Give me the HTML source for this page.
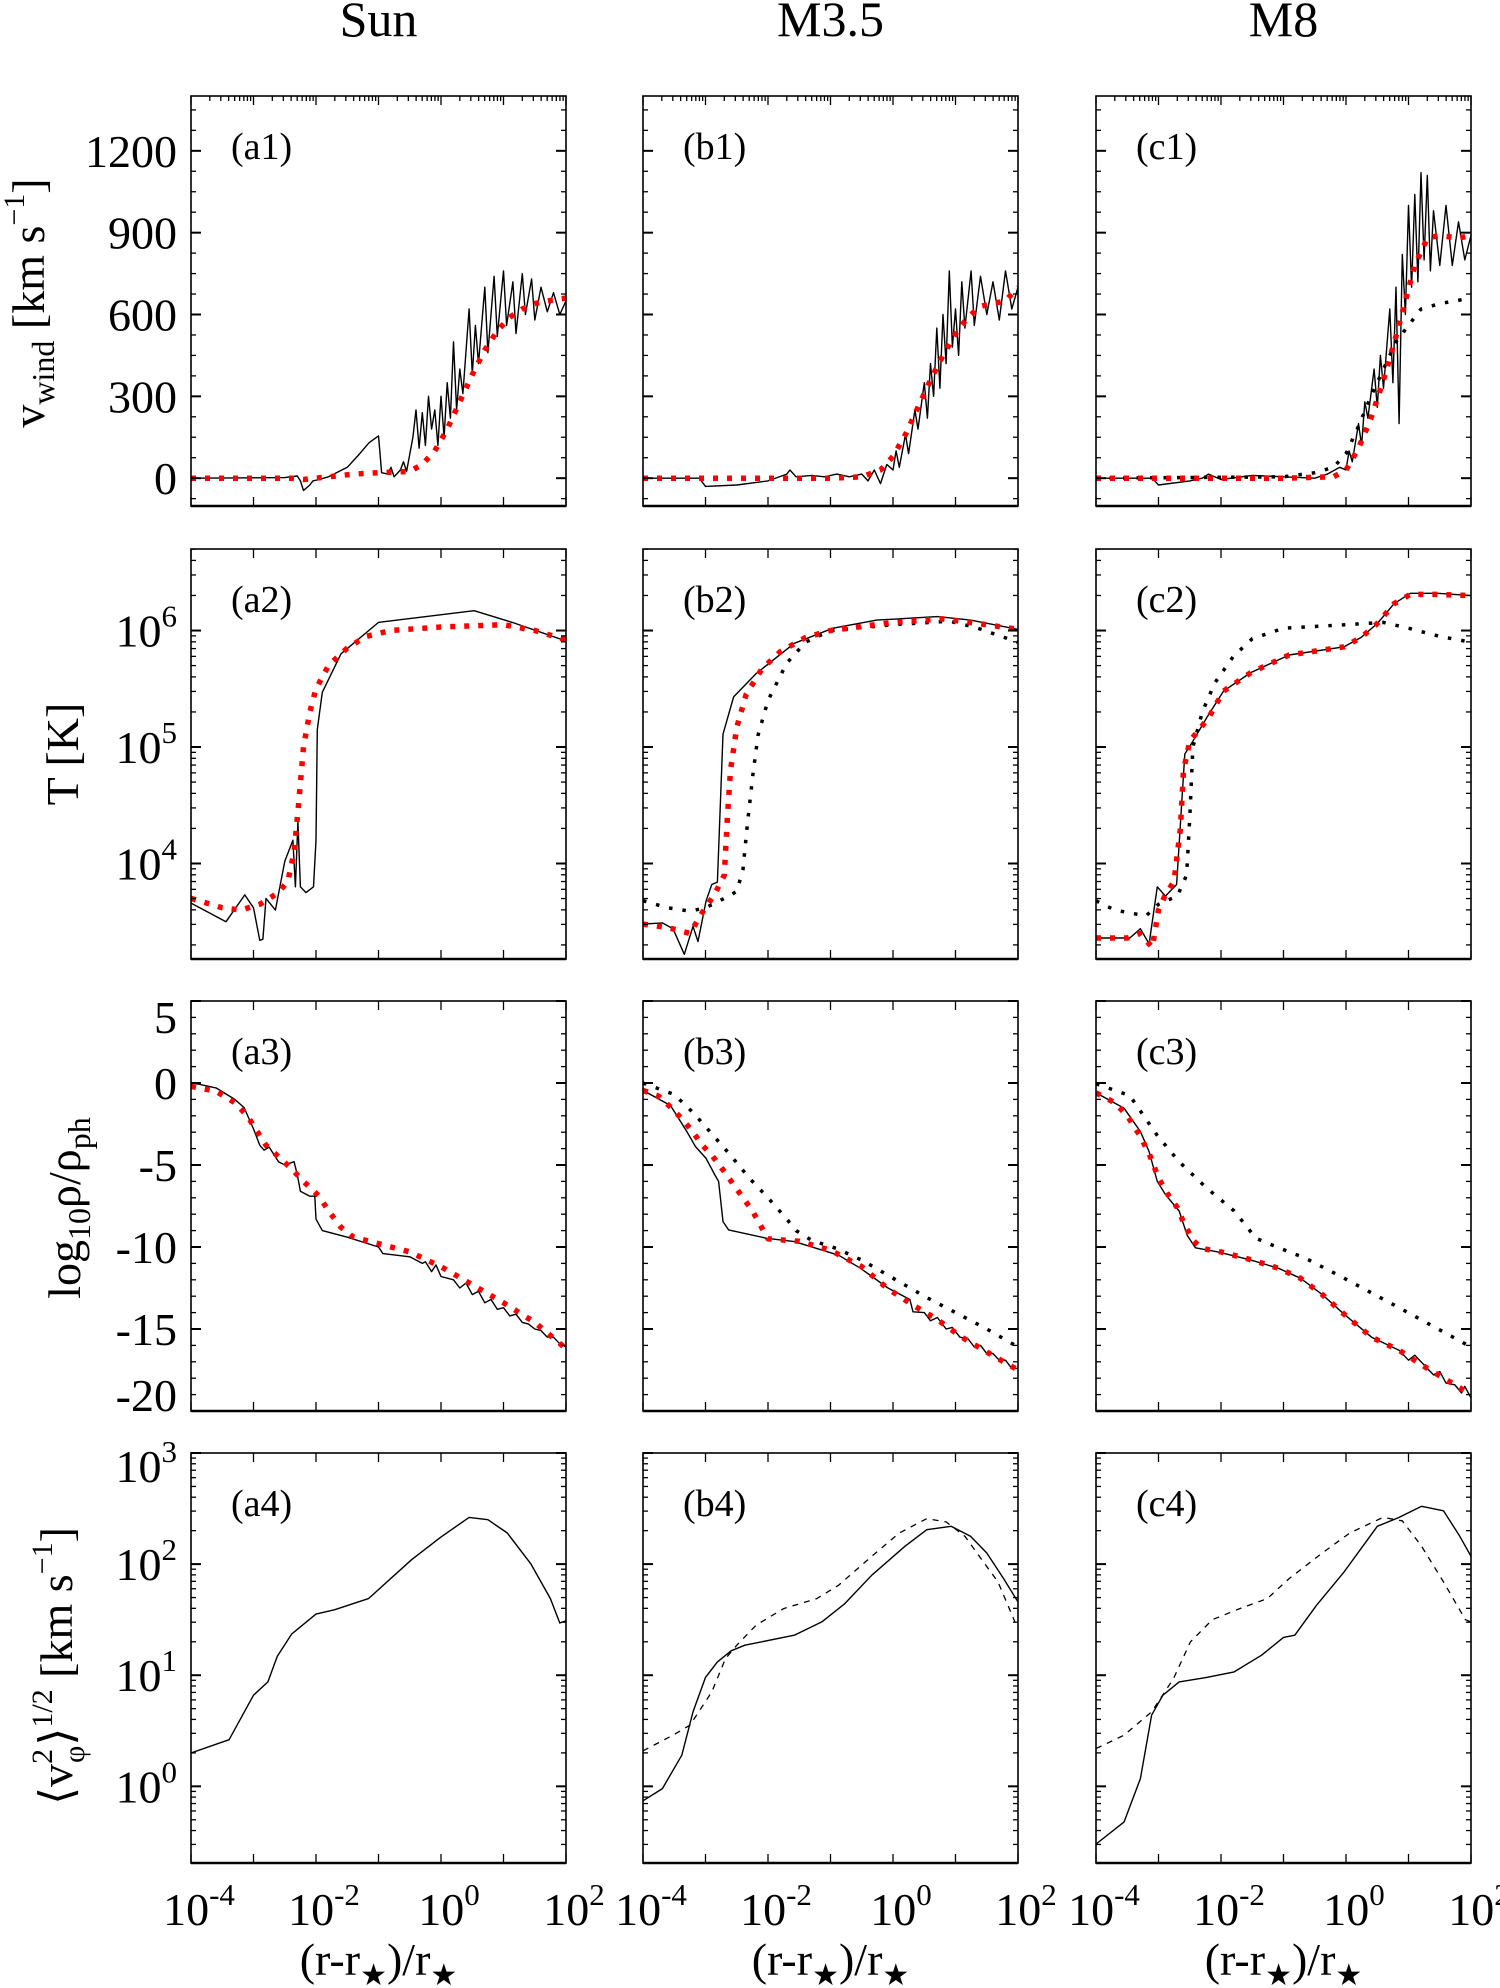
<!DOCTYPE html>
<html><head><meta charset="utf-8"><style>
html,body{margin:0;padding:0;background:#fff;}
svg{display:block;}
text{font-family:"Liberation Serif",serif;fill:#000;}
</style></head><body>
<svg id="fig" width="1500" height="1988" viewBox="0 0 1500 1988" xmlns="http://www.w3.org/2000/svg"></svg>
<script>
// ---------- data (x in log10((r-r*)/r*), y in native units or log10 for log panels) ----------
const columnTitles = ["Sun","M3.5","M8"];
const xTickExps = [-4,-2,0,2];
const vTicks = [0,300,600,900,1200];
const tTickExps = [4,5,6];
const rhoTicks = [5,0,-5,-10,-15,-20];
const vphiTickExps = [0,1,2,3];

const a1Solid=[[-4,0],[-2.5,2],[-2.3,8],[-2.25,-10],[-2.2,-45],[-2.1,-25],[-2.05,-10],[-1.95,-5],[-1.8,5],[-1.5,40],[-1.3,90],[-1.15,130],[-1.0,155],[-0.98,100],[-0.95,20],[-0.85,15],[-0.8,40],[-0.75,5],[-0.65,30],[-0.6,60],[-0.55,25],[-0.45,150],[-0.4,250],[-0.35,110],[-0.3,240],[-0.25,120],[-0.2,300],[-0.15,180],[-0.1,250],[-0.05,120],[0,300],[0.05,150],[0.1,350],[0.15,220],[0.2,500],[0.25,250],[0.3,400],[0.35,310],[0.45,620],[0.5,380],[0.55,560],[0.6,420],[0.7,700],[0.75,460],[0.85,740],[0.9,520],[1,760],[1.05,560],[1.15,720],[1.2,530],[1.3,750],[1.35,600],[1.45,730],[1.5,580],[1.6,700],[1.7,610],[1.8,680],[1.9,600],[2,650]];
const a1Red=[[-4,0],[-2.4,0],[-2.2,-5],[-1.8,5],[-1.4,15],[-1,20],[-0.5,25],[-0.3,50],[-0.1,100],[0.1,180],[0.3,280],[0.5,380],[0.7,470],[0.9,540],[1.1,590],[1.3,620],[1.5,640],[1.7,650],[2,660]];
const b1Solid=[[-4,0],[-3.1,0],[-3.0,-30],[-2.5,-25],[-2.0,-10],[-1.7,15],[-1.65,30],[-1.55,5],[-1.3,10],[-1.1,5],[-0.9,15],[-0.7,5],[-0.5,15],[-0.4,-10],[-0.3,30],[-0.2,-20],[-0.1,50],[0,30],[0.05,100],[0.1,40],[0.2,160],[0.25,90],[0.35,250],[0.4,180],[0.5,350],[0.55,220],[0.6,420],[0.65,300],[0.7,550],[0.75,330],[0.8,600],[0.85,420],[0.9,760],[0.95,480],[1.0,620],[1.05,450],[1.1,720],[1.15,550],[1.25,760],[1.3,560],[1.4,740],[1.5,600],[1.6,720],[1.7,580],[1.8,760],[1.9,620],[2,700]];
const b1Red=[[-4,0],[-1,0],[-0.5,5],[-0.2,30],[0,80],[0.2,160],[0.4,260],[0.6,360],[0.8,450],[1,530],[1.2,590],[1.4,630],[1.6,640],[1.8,650],[2,700]];
const c1Solid=[[-4,0],[-3.1,0],[-3.0,-25],[-2.5,-10],[-2.3,0],[-2.2,15],[-2,-5],[-1.5,10],[-1,5],[-0.5,0],[-0.3,15],[-0.1,40],[0,30],[0.05,100],[0.1,60],[0.2,200],[0.25,120],[0.3,280],[0.35,220],[0.45,400],[0.5,260],[0.55,450],[0.6,330],[0.7,620],[0.75,350],[0.8,700],[0.85,200],[0.9,820],[0.95,600],[1.0,1000],[1.05,700],[1.1,1040],[1.15,720],[1.2,1120],[1.25,800],[1.3,1110],[1.35,760],[1.4,980],[1.5,780],[1.6,1000],[1.7,780],[1.8,940],[1.9,800],[2,890]];
const c1Red=[[-4,0],[-1,0],[-0.2,5],[0,30],[0.2,110],[0.4,220],[0.6,360],[0.8,520],[0.95,650],[1.1,780],[1.3,880],[1.5,890],[1.8,880],[2,890]];
const c1Dot=[[-4,0],[-1,5],[-0.5,20],[-0.2,40],[0,90],[0.2,190],[0.4,300],[0.6,400],[0.8,500],[1.0,560],[1.2,620],[1.5,640],[2,660]];

const a2Solid=[[-4,3.66],[-3.44,3.5],[-3.14,3.73],[-3.0,3.62],[-2.9,3.34],[-2.85,3.35],[-2.8,3.7],[-2.65,3.6],[-2.5,4.02],[-2.37,4.2],[-2.33,3.8],[-2.29,4.36],[-2.25,3.8],[-2.16,3.75],[-2.04,3.8],[-2.0,4.2],[-1.98,5.15],[-1.9,5.47],[-1.6,5.8],[-1.0,6.07],[0.53,6.17],[1.14,6.07],[2,5.91]];
const a2Red=[[-4,3.7],[-3.5,3.62],[-3.2,3.6],[-2.9,3.65],[-2.6,3.75],[-2.45,3.85],[-2.35,4.1],[-2.28,4.5],[-2.2,5.0],[-2.1,5.3],[-2.0,5.5],[-1.8,5.7],[-1.5,5.85],[-1.2,5.95],[-0.8,6.0],[0,6.03],[1,6.05],[1.5,6.0],[2,5.92]];
const b2Solid=[[-4,3.48],[-3.69,3.49],[-3.52,3.44],[-3.34,3.22],[-3.2,3.46],[-3.12,3.33],[-2.99,3.68],[-2.9,3.82],[-2.81,3.84],[-2.72,5.11],[-2.55,5.43],[-2.19,5.63],[-1.58,5.89],[-0.96,6.02],[-0.26,6.09],[0.71,6.12],[1.24,6.09],[2.0,6.01]];
const b2Red=[[-4,3.48],[-3.6,3.45],[-3.25,3.4],[-3.05,3.58],[-2.85,3.74],[-2.7,3.9],[-2.65,4.4],[-2.6,4.8],[-2.5,5.17],[-2.35,5.45],[-2.1,5.67],[-1.8,5.82],[-1.4,5.94],[-1,6.0],[0,6.07],[0.8,6.1],[1.5,6.05],[2,6.01]];
const b2Dot=[[-4,3.68],[-3.6,3.62],[-3.25,3.59],[-3.0,3.62],[-2.7,3.7],[-2.5,3.76],[-2.4,3.95],[-2.33,4.34],[-2.24,4.77],[-2.16,5.1],[-2.0,5.4],[-1.7,5.72],[-1.4,5.9],[-1.0,6.0],[0,6.05],[0.9,6.08],[1.3,6.03],[2,5.9]];
const c2Solid=[[-4,3.36],[-3.46,3.36],[-3.29,3.44],[-3.15,3.31],[-3.02,3.8],[-2.89,3.72],[-2.71,3.82],[-2.58,4.94],[-2.45,5.05],[-2.23,5.25],[-1.96,5.48],[-1.52,5.64],[-0.91,5.79],[-0.03,5.86],[0.24,5.94],[0.5,6.06],[0.77,6.23],[1.03,6.32],[1.47,6.32],[2.0,6.3]];
const c2Red=[[-4,3.36],[-3.5,3.36],[-3.3,3.4],[-3.1,3.28],[-3.0,3.6],[-2.9,3.72],[-2.75,3.85],[-2.65,4.3],[-2.6,4.8],[-2.5,5.05],[-2.2,5.25],[-1.96,5.48],[-1.52,5.64],[-0.91,5.79],[-0.03,5.86],[0.24,5.94],[0.5,6.06],[0.77,6.23],[1.03,6.31],[1.47,6.31],[2.0,6.3]];
const c2Dot=[[-4,3.68],[-3.7,3.6],[-3.2,3.55],[-3.0,3.65],[-2.7,3.72],[-2.55,3.9],[-2.5,4.4],[-2.45,5.0],[-2.3,5.3],[-2.1,5.55],[-1.8,5.78],[-1.5,5.93],[-1.0,6.02],[0,6.05],[0.6,6.07],[1.0,6.02],[1.5,5.95],[2,5.9]];

const a3Solid=[[-4,0.03],[-3.6,-0.3],[-3.3,-1.0],[-3.15,-1.5],[-3.0,-2.8],[-2.9,-3.8],[-2.83,-4.1],[-2.75,-3.9],[-2.6,-4.8],[-2.5,-5.0],[-2.35,-4.8],[-2.3,-5.6],[-2.25,-6.6],[-2.1,-6.9],[-2.02,-6.9],[-2.0,-8.3],[-1.9,-9.0],[-1.5,-9.4],[-1.0,-10.0],[-0.93,-10.4],[-0.5,-10.6],[-0.3,-11.0],[-0.25,-10.9],[-0.15,-11.5],[-0.08,-11.1],[0,-11.8],[0.2,-12.0],[0.3,-12.5],[0.4,-12.2],[0.5,-12.9],[0.6,-12.7],[0.7,-13.4],[0.8,-13.2],[0.9,-13.8],[1.0,-13.7],[1.1,-14.2],[1.2,-14.1],[1.3,-14.6],[1.4,-14.7],[1.5,-15.0],[1.6,-15.1],[1.7,-15.5],[1.8,-15.5],[1.9,-15.9],[2,-16.1]];
const a3Red=[[-4,-0.2],[-3.6,-0.5],[-3.3,-1.2],[-3.1,-2.0],[-2.95,-2.9],[-2.8,-3.8],[-2.6,-4.5],[-2.4,-5.2],[-2.2,-6.0],[-1.95,-6.9],[-1.8,-7.8],[-1.6,-8.8],[-1.4,-9.4],[-1.0,-9.8],[-0.5,-10.3],[0,-11.2],[0.5,-12.3],[1,-13.4],[1.5,-14.6],[2,-16.2]];
const b3Solid=[[-4,-0.45],[-3.56,-1.37],[-3.3,-2.96],[-3.16,-3.88],[-2.99,-4.6],[-2.85,-5.61],[-2.79,-6.0],[-2.72,-8.45],[-2.63,-8.96],[-2.02,-9.47],[-1.58,-9.67],[-0.87,-10.5],[-0.52,-11.3],[-0.08,-12.5],[0.27,-13.2],[0.32,-13.95],[0.5,-14.0],[0.6,-14.5],[0.71,-14.3],[0.85,-15.0],[0.95,-14.9],[1.07,-15.5],[1.2,-15.6],[1.3,-16.1],[1.4,-16.0],[1.5,-16.5],[1.6,-16.5],[1.7,-16.9],[1.8,-16.9],[1.9,-17.4],[2,-17.4]];
const b3Red=[[-4,-0.45],[-3.75,-0.8],[-3.55,-1.5],[-3.35,-2.3],[-3.2,-3.0],[-3.05,-3.8],[-2.9,-4.4],[-2.7,-5.4],[-2.55,-6.2],[-2.4,-7.0],[-2.25,-7.8],[-2.0,-9.5],[-1.5,-9.65],[-1.0,-10.2],[-0.5,-11.2],[-0.1,-12.5],[0.3,-13.5],[0.7,-14.4],[1.1,-15.5],[1.5,-16.4],[2,-17.5]];
const b3Dot=[[-4,0],[-3.5,-0.7],[-3.2,-1.8],[-2.9,-3.1],[-2.6,-4.4],[-2.3,-5.8],[-2.0,-7.0],[-1.7,-8.3],[-1.55,-9.0],[-1.3,-9.6],[-0.9,-10.1],[-0.5,-10.8],[0,-11.9],[0.5,-13.0],[1.0,-14.0],[1.5,-15.0],[2,-16.1]];
const c3Solid=[[-4,-0.6],[-3.55,-1.54],[-3.29,-2.96],[-3.15,-4.18],[-3.02,-6.0],[-2.89,-6.8],[-2.67,-7.8],[-2.54,-9.3],[-2.41,-10.05],[-2.05,-10.3],[-1.52,-10.8],[-1.08,-11.3],[-0.73,-11.9],[-0.38,-12.9],[-0.03,-14.1],[0.41,-15.5],[0.85,-16.3],[1.0,-16.9],[1.1,-16.6],[1.3,-17.4],[1.4,-17.8],[1.5,-17.6],[1.6,-18.3],[1.74,-18.4],[1.85,-18.9],[1.9,-18.5],[2,-19.2]];
const c3Red=[[-4,-0.6],[-3.7,-1.2],[-3.5,-2.0],[-3.3,-3.2],[-3.15,-4.3],[-3.0,-5.8],[-2.85,-6.8],[-2.7,-7.6],[-2.6,-8.5],[-2.45,-9.6],[-2.3,-10.1],[-2.0,-10.3],[-1.5,-10.8],[-1.08,-11.3],[-0.73,-11.9],[-0.38,-12.9],[-0.03,-14.1],[0.41,-15.5],[0.85,-16.3],[1.3,-17.4],[1.74,-18.4],[2,-19.0]];
const c3Dot=[[-4,-0.05],[-3.46,-0.77],[-3.02,-3.2],[-2.67,-4.8],[-2.23,-6.4],[-1.79,-7.8],[-1.44,-9.47],[-1.17,-9.9],[-0.64,-10.7],[-0.03,-11.9],[0.85,-13.7],[2,-16.1]];

const a4Solid=[[-4,0.30],[-3.39,0.42],[-3.0,0.82],[-2.77,0.94],[-2.62,1.17],[-2.39,1.37],[-2.0,1.55],[-1.7,1.59],[-1.16,1.69],[-0.47,2.04],[-0.01,2.24],[0.45,2.42],[0.75,2.4],[1.06,2.28],[1.44,2.0],[1.75,1.69],[1.9,1.47],[2,1.49]];
const b4Solid=[[-4,-0.13],[-3.69,-0.02],[-3.38,0.28],[-3.2,0.67],[-3.0,0.98],[-2.81,1.12],[-2.59,1.22],[-2.37,1.27],[-1.58,1.36],[-1.14,1.48],[-0.78,1.64],[-0.34,1.9],[0.19,2.16],[0.54,2.31],[0.93,2.34],[1.24,2.25],[1.5,2.1],[1.77,1.87],[2,1.66]];
const b4Dash=[[-4,0.32],[-3.52,0.46],[-3.25,0.55],[-2.9,0.85],[-2.68,1.15],[-2.5,1.27],[-2.19,1.45],[-1.75,1.6],[-1.22,1.69],[-0.87,1.81],[-0.34,2.07],[0.1,2.28],[0.54,2.41],[0.85,2.38],[1.15,2.25],[1.42,2.04],[1.68,1.84],[1.95,1.48]];
const c4Solid=[[-4,-0.52],[-3.55,-0.32],[-3.29,0.07],[-3.11,0.64],[-2.93,0.82],[-2.67,0.94],[-2.23,0.98],[-1.79,1.03],[-1.35,1.18],[-1.0,1.34],[-0.82,1.36],[-0.47,1.63],[-0.03,1.93],[0.5,2.34],[0.85,2.42],[1.21,2.52],[1.56,2.48],[1.82,2.25],[2.0,2.07]];
const c4Dash=[[-4,0.34],[-3.55,0.46],[-3.11,0.67],[-2.76,0.97],[-2.49,1.3],[-2.14,1.5],[-1.7,1.6],[-1.26,1.69],[-0.91,1.87],[-0.38,2.1],[0.06,2.28],[0.59,2.42],[0.9,2.39],[1.21,2.16],[1.56,1.84],[1.91,1.5],[2,1.48]];

// ---------- layout ----------
const NS="http://www.w3.org/2000/svg";
const svg=document.getElementById('fig');
const X0=[191,643,1096], PW=375, PH=410;
const ROWT=[96,549,1001,1453];
const YR=[[-102,1401],[3.18,6.70],[-20,5.0],[-0.69,3.0]];
function xs(c,lx){return X0[c]+(lx+4)/6*PW;}
function ys(r,v){const d=YR[r];return ROWT[r]+PH-(v-d[0])/(d[1]-d[0])*PH;}
function el(tag,parent){const e=document.createElementNS(NS,tag);parent.appendChild(e);return e;}
function line(p,x1,y1,x2,y2,w){const l=el('line',p);l.setAttribute('x1',x1);l.setAttribute('y1',y1);l.setAttribute('x2',x2);l.setAttribute('y2',y2);l.setAttribute('stroke','#000');l.setAttribute('stroke-width',w||1.3);return l;}
function txt(p,x,y,s,size,anchor){const t=el('text',p);t.setAttribute('x',x);t.setAttribute('y',y);t.setAttribute('font-size',size);t.setAttribute('text-anchor',anchor||'middle');t.textContent=s;return t;}
function powLabel(p,x,y,exp,anchor){
  const t=el('text',p);t.setAttribute('x',x);t.setAttribute('y',y);t.setAttribute('font-size',46);t.setAttribute('text-anchor',anchor);
  const a=el('tspan',t);a.textContent='10';
  const b=el('tspan',t);b.setAttribute('dy',-20);b.setAttribute('font-size',31);b.textContent=String(exp);
  return t;
}
const defs=el('defs',svg);

const series=[
 [[a1Solid,'s'],[a1Red,'r']],[[b1Solid,'s'],[b1Red,'r']],[[c1Dot,'d'],[c1Solid,'s'],[c1Red,'r']],
 [[a2Solid,'s'],[a2Red,'r']],[[b2Dot,'d'],[b2Solid,'s'],[b2Red,'r']],[[c2Dot,'d'],[c2Solid,'s'],[c2Red,'r']],
 [[a3Solid,'s'],[a3Red,'r']],[[b3Dot,'d'],[b3Solid,'s'],[b3Red,'r']],[[c3Dot,'d'],[c3Solid,'s'],[c3Red,'r']],
 [[a4Solid,'s']],[[b4Dash,'h'],[b4Solid,'s']],[[c4Dash,'h'],[c4Solid,'s']]
];
const letters=['a','b','c'];

for(let c=0;c<3;c++){
  const t=txt(svg,X0[c]+PW/2,36,columnTitles[c],50);
  
  
}

for(let r=0;r<4;r++){
  for(let c=0;c<3;c++){
    const g=el('g',svg);
    
    
    const L=X0[c],T=ROWT[r],R=L+PW,B=T+PH;
    const cp=el('clipPath',defs);cp.setAttribute('id','cp'+r+c);
    const cr=el('rect',cp);cr.setAttribute('x',L);cr.setAttribute('y',T);cr.setAttribute('width',PW);cr.setAttribute('height',PH);
    // series
    const sg=el('g',g);sg.setAttribute('clip-path','url(#cp'+r+c+')');
    for(const [pts,sty] of series[r*3+c]){
      const p=el('path',sg);
      
      
      p.setAttribute('d',pts.map((q,i)=>(i?'L':'M')+xs(c,q[0]).toFixed(1)+','+ys(r,q[1]).toFixed(1)).join(''));
      p.setAttribute('fill','none');p.setAttribute('stroke-linejoin','round');
      if(sty==='s'){p.setAttribute('stroke','#000');p.setAttribute('stroke-width',1.4);}
      if(sty==='r'){p.setAttribute('stroke','#ff0000');p.setAttribute('stroke-width',5.5);p.setAttribute('stroke-dasharray','5 9');}
      if(sty==='d'){p.setAttribute('stroke','#000');p.setAttribute('stroke-width',3.5);p.setAttribute('stroke-dasharray','3.5 10');}
      if(sty==='h'){p.setAttribute('stroke','#000');p.setAttribute('stroke-width',1.3);p.setAttribute('stroke-dasharray','6 6');}
    }
    // frame
    const fr=el('rect',g);fr.setAttribute('x',L);fr.setAttribute('y',T);fr.setAttribute('width',PW);fr.setAttribute('height',PH);
    fr.setAttribute('fill','none');fr.setAttribute('stroke','#000');fr.setAttribute('stroke-width',1.6);
    
    
    line(g,L,B,R,B,2.6);
    // x ticks
    for(let e=-4;e<=2;e++){const x=xs(c,e);line(g,x,B,x,B-9);line(g,x,T,x,T+9);
      if(r===0&&e<2){for(let m=2;m<=9;m++){const xm=xs(c,e+Math.log10(m));line(g,xm,T,xm,T+5);}}}
    // y ticks
    const tk=[],mn=[];
    if(r===0){for(let v=0;v<=1400;v+=300)tk.push(v);for(let v=-75;v<=1400;v+=75)mn.push(v);}
    if(r===1||r===3){for(let e=-1;e<=7;e++){tk.push(e);for(let m=2;m<=9;m++)mn.push(e+Math.log10(m));}}
    if(r===2){for(let v=5;v>=-20;v-=5)tk.push(v);for(let v=5;v>=-20;v--)mn.push(v);}
    const d=YR[r];
    for(const v of mn){if(v<d[0]||v>d[1])continue;const y=ys(r,v);line(g,L,y,L+5,y);line(g,R,y,R-5,y);}
    for(const v of tk){if(v<d[0]||v>d[1])continue;const y=ys(r,v);line(g,L,y,L+10,y,2);line(g,R,y,R-10,y,2);}
    // panel label
    const pl=txt(g,L+40,T+63,'('+letters[c]+(r+1)+')',38,'start');
    
    
  }
}

// y tick labels (column a)
for(const v of vTicks){const t=txt(svg,177,ys(0,v)+16,String(v),46,'end');
  
  }
for(const e of tTickExps){const t=powLabel(svg,177,ys(1,e)+16,e,'end');
  
  }
for(const v of rhoTicks){let y=ys(2,v);y=Math.max(ROWT[2]+16,Math.min(ROWT[2]+PH-16,y));
  const t=txt(svg,177,y+16,String(v),46,'end');
  
  }
for(const e of vphiTickExps){let y=Math.max(ROWT[3]+13,ys(3,e));const t=powLabel(svg,177,y+16,e,'end');
  
  }

// x tick labels (bottom row)
for(let c=0;c<3;c++){
  for(const e of xTickExps){const t=powLabel(svg,xs(c,e)+8,1925,e,'middle');
    
    }
  const xt=el('text',svg);xt.setAttribute('x',X0[c]+PW/2);xt.setAttribute('y',1975);xt.setAttribute('font-size',46);xt.setAttribute('text-anchor','middle');
  
  
  const s1=el('tspan',xt);s1.textContent='(r-r';
  const s2=el('tspan',xt);s2.setAttribute('dy',10);s2.setAttribute('font-size',30);s2.setAttribute('font-family','DejaVu Sans');s2.textContent='★';
  const s3=el('tspan',xt);s3.setAttribute('dy',-10);s3.textContent=')/r';
  const s4=el('tspan',xt);s4.setAttribute('dy',10);s4.setAttribute('font-size',30);s4.setAttribute('font-family','DejaVu Sans');s4.textContent='★';
}

// y axis titles
function ytitle(cx,cy,len,name,build){
  const t=el('text',svg);t.setAttribute('x',0);t.setAttribute('y',0);t.setAttribute('font-size',46);t.setAttribute('text-anchor','middle');
  t.setAttribute('transform','translate('+cx+','+cy+') rotate(-90)');
  
  
  build(t);
  return t;
}
function ts(t,s,opts){const a=el('tspan',t);a.textContent=s;if(opts){for(const k in opts)a.setAttribute(k,opts[k]);}return a;}
ytitle(44,303,250,'y-axis-title-vwind',t=>{ts(t,'v');ts(t,'wind',{dy:10,'font-size':32});ts(t,' [km s',{dy:-10});ts(t,'−1',{dy:-20,'font-size':30});ts(t,']',{dy:20});});
ytitle(78,754,100,'y-axis-title-temperature',t=>{ts(t,'T [K]');});
ytitle(80,1208,190,'y-axis-title-density',t=>{ts(t,'log');ts(t,'10',{dy:10,'font-size':32});ts(t,'ρ/ρ',{dy:-10});ts(t,'ph',{dy:10,'font-size':32});});
ytitle(72,1666,300,'y-axis-title-vphi',t=>{ts(t,'⟨v');ts(t,'2',{dy:-20,'font-size':30});ts(t,'φ',{dx:-14,dy:32,'font-size':30});ts(t,'⟩',{dy:-12});ts(t,'1/2',{dy:-20,'font-size':30});ts(t,' [km s',{dy:20});ts(t,'−1',{dy:-20,'font-size':30});ts(t,']',{dy:20});});
</script>
</body></html>
